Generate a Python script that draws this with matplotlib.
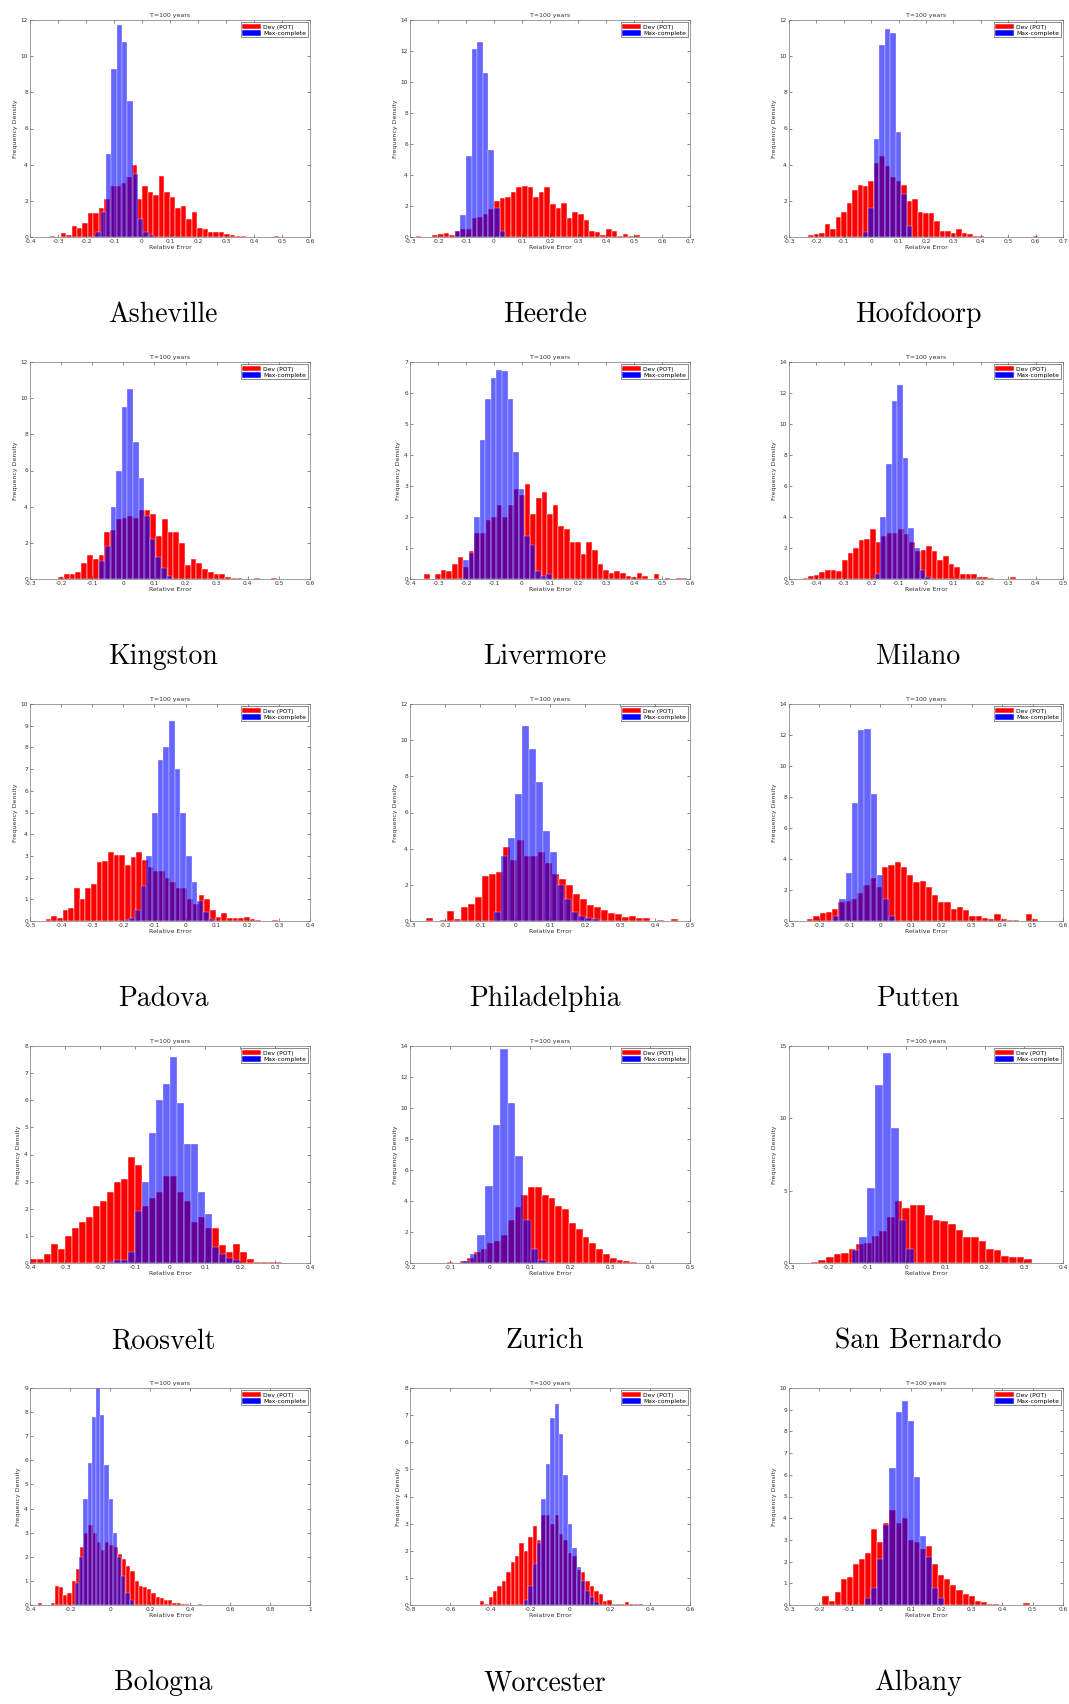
import numpy as np
import matplotlib
matplotlib.use("Agg")
import matplotlib.pyplot as plt
from matplotlib.ticker import FuncFormatter

plt.rcParams['axes.unicode_minus'] = False
plt.rcParams['font.family'] = 'DejaVu Sans'

cities = ["Asheville", "Heerde", "Hoofdoorp",
          "Kingston", "Livermore", "Milano",
          "Padova", "Philadelphia", "Putten",
          "Roosvelt", "Zurich", "San Bernardo",
          "Bologna", "Worcester", "Albany"]

x_limits = [(-0.4, 0.6), (-0.3, 0.7), (-0.3, 0.7),
            (-0.3, 0.6), (-0.4, 0.6), (-0.5, 0.5),
            (-0.5, 0.4), (-0.3, 0.5), (-0.3, 0.6),
            (-0.4, 0.4), (-0.2, 0.5), (-0.3, 0.4),
            (-0.4, 1.0), (-0.8, 0.6), (-0.3, 0.6)]
x_steps = [0.1] * 12 + [0.2, 0.2, 0.1]
y_max = [12, 14, 12, 12, 7, 14, 10, 12, 14, 8, 14, 15, 9, 8, 10]
y_steps = [2, 2, 2, 2, 1, 2, 1, 2, 2, 1, 2, 5, 1, 1, 1]

# Dev (POT): first bin centre, bin width, densities
asheville_red = (-0.32, 0.0195, [0.05, 0.0, 0.2, 0.1, 0.6, 0.5, 0.8, 1.3, 1.3, 1.6, 2.1, 2.8, 2.8, 3.0, 3.3, 4.0,
                                 2.1, 2.8, 2.5, 2.3, 3.4, 2.5, 2.2, 1.6, 1.7, 1.0, 1.4, 0.5, 0.45, 0.3, 0.3, 0.3,
                                 0.15, 0.1, 0.05, 0.03, 0.02, 0.02, 0.02, 0.02, 0.02, 0.03])
heerde_red = (-0.27, 0.02, [0.05, 0.0, 0.0, 0.1, 0.2, 0.25, 0.1, 0.4, 0.5, 0.5, 1.2, 1.3, 1.5, 1.8, 2.3, 2.5,
                            2.6, 2.9, 3.2, 3.3, 3.2, 2.6, 2.9, 3.2, 2.1, 1.9, 2.2, 1.2, 1.6, 1.5, 1.1, 0.4,
                            0.3, 0.1, 0.5, 0.4, 0.05, 0.2, 0.05, 0.1, 0.02, 0.02, 0.02, 0.02, 0.02, 0.02, 0.02])
hoofdoorp_red = (-0.22, 0.02, [0.1, 0.15, 0.2, 0.7, 0.45, 1.1, 1.4, 1.9, 2.6, 2.9, 2.8, 3.1, 4.1, 4.5, 3.9, 3.3,
                               3.1, 2.9, 2.0, 2.1, 1.4, 1.3, 1.3, 0.9, 0.35, 0.35, 0.2, 0.45, 0.2, 0.15, 0.05,
                               0.03, 0.02, 0.02, 0.02, 0.02, 0.02, 0.02, 0.02, 0.02, 0.02, 0.05])
kingston_red = (-0.2, 0.0185, [0.1, 0.3, 0.25, 0.4, 0.9, 1.3, 1.1, 1.3, 2.6, 2.7, 3.3, 3.4, 3.5, 3.4, 3.8, 3.8,
                               3.6, 2.4, 3.3, 2.6, 2.6, 2.0, 0.8, 1.1, 0.9, 0.55, 0.4, 0.25, 0.25, 0.1, 0.05,
                               0.03, 0.02, 0.02, 0.03, 0.02, 0.02, 0.03, 0.02])
livermore_red = (-0.34, 0.02, [0.15, 0.0, 0.15, 0.3, 0.25, 0.5, 0.7, 0.4, 0.9, 1.5, 1.5, 1.9, 2.0, 2.4, 2.0, 2.4,
                               2.9, 2.7, 3.05, 2.1, 2.6, 2.8, 2.1, 2.4, 1.7, 1.6, 1.2, 1.2, 0.8, 1.2, 0.95, 0.5,
                               0.3, 0.2, 0.25, 0.2, 0.1, 0.07, 0.2, 0.1, 0.0, 0.15, 0.0, 0.03, 0.0, 0.03, 0.03])
milano_red = (-0.44, 0.0205, [0.05, 0.2, 0.25, 0.45, 0.6, 0.55, 0.5, 1.2, 1.7, 2.0, 2.5, 2.6, 3.2, 2.4, 2.8, 3.0,
                              3.0, 3.2, 2.9, 2.4, 1.8, 1.9, 2.1, 1.8, 1.2, 1.5, 1.0, 0.8, 0.35, 0.35, 0.3, 0.15,
                              0.1, 0.05, 0.03, 0.02, 0.03, 0.1, 0.02, 0.02, 0.02, 0.02])
padova_red = (-0.44, 0.0182, [0.1, 0.25, 0.15, 0.5, 0.6, 1.5, 1.0, 1.5, 1.7, 2.7, 2.75, 3.2, 3.05, 3.05, 2.6, 2.95,
                              3.2, 2.8, 2.5, 2.3, 2.3, 2.0, 1.8, 1.5, 1.5, 1.0, 0.8, 1.2, 1.0, 0.5, 0.2, 0.35,
                              0.15, 0.15, 0.15, 0.2, 0.1, 0.05, 0.0, 0.0, 0.05])
philadelphia_red = (-0.245, 0.02, [0.15, 0.0, 0.05, 0.55, 0.1, 0.8, 0.95, 1.3, 2.5, 2.6, 2.7, 4.1, 3.4, 4.5, 3.6,
                                   3.6, 3.8, 3.2, 2.6, 2.3, 2.0, 1.5, 1.2, 0.9, 0.8, 0.6, 0.45, 0.4, 0.2, 0.25,
                                   0.15, 0.15, 0.02, 0.05, 0.02, 0.1])
putten_red = (-0.23, 0.0205, [0.1, 0.3, 0.5, 0.6, 0.8, 1.2, 1.3, 1.4, 1.8, 2.3, 2.8, 2.2, 3.5, 3.6, 3.8, 3.5, 3.0,
                              2.5, 2.6, 2.2, 1.7, 1.2, 1.2, 0.8, 0.9, 0.7, 0.3, 0.3, 0.2, 0.15, 0.45, 0.15, 0.05,
                              0.05, 0.02, 0.45, 0.1])
roosvelt_red = (-0.39, 0.02, [0.15, 0.15, 0.35, 0.7, 0.5, 1.0, 1.3, 1.5, 1.7, 2.1, 2.3, 2.6, 3.0, 3.1, 3.9, 3.6,
                              2.1, 2.4, 2.6, 3.2, 3.2, 2.6, 2.3, 1.5, 1.7, 1.3, 1.3, 0.65, 0.4, 0.7, 0.4, 0.15,
                              0.05, 0.05, 0.05, 0.05])
zurich_red = (-0.1, 0.017, [0.05, 0.02, 0.1, 0.3, 0.7, 0.9, 1.3, 1.4, 1.8, 2.8, 3.6, 4.4, 4.9, 4.9, 4.4, 4.2, 3.7,
                            3.5, 2.6, 2.2, 1.7, 1.3, 0.9, 0.6, 0.3, 0.2, 0.15, 0.05, 0.02, 0.02])
sanbernardo_red = (-0.235, 0.0195, [0.1, 0.2, 0.4, 0.6, 0.7, 1.0, 1.3, 1.4, 1.9, 2.2, 3.2, 4.3, 3.8, 4.0, 4.0, 3.3,
                                    3.0, 2.9, 2.7, 2.3, 1.8, 1.8, 1.5, 1.0, 0.9, 0.5, 0.4, 0.4, 0.3])
bologna_red = (-0.35, 0.021, [0.1, 0.0, 0.0, 0.1, 0.8, 0.75, 0.4, 0.5, 1.0, 1.5, 2.4, 3.0, 3.3, 3.0, 2.6, 2.3,
                              2.6, 2.5, 2.4, 2.1, 1.9, 1.6, 1.4, 1.0, 0.8, 0.75, 0.65, 0.5, 0.35, 0.3, 0.2, 0.2,
                              0.1, 0.1, 0.05, 0.05, 0.02, 0.02, 0.05])
worcester_red = (-0.44, 0.022, [0.15, 0.05, 0.3, 0.5, 0.7, 0.9, 1.2, 1.6, 1.8, 2.3, 2.0, 2.5, 2.9, 2.4, 3.3, 3.3,
                                3.0, 3.3, 2.6, 2.4, 1.9, 1.8, 1.3, 1.2, 0.9, 0.7, 0.5, 0.4, 0.15, 0.2, 0.05,
                                0.05, 0.02, 0.1, 0.02, 0.02, 0.05])
albany_red = (-0.18, 0.02, [0.4, 0.2, 0.6, 1.2, 1.3, 1.9, 2.1, 2.4, 3.5, 2.9, 3.8, 4.4, 3.8, 4.0, 3.0, 2.9, 2.6,
                            2.7, 1.9, 1.4, 1.2, 0.9, 0.7, 0.5, 0.4, 0.2, 0.15, 0.05, 0.05, 0.02, 0.02, 0.02,
                            0.02, 0.1])

# Max-complete: first bin centre, bin width, densities
asheville_blue = (-0.157, 0.019, [0.3, 1.4, 4.6, 9.3, 11.7, 10.8, 7.5, 3.5, 1.0, 0.3, 0.1])
heerde_blue = (-0.13, 0.02, [0.4, 1.4, 5.2, 12.1, 12.6, 10.6, 5.6, 1.9, 0.4])
hoofdoorp_blue = (-0.02, 0.02, [0.3, 1.6, 5.4, 10.6, 11.5, 11.3, 5.8, 2.4, 0.6])
kingston_blue = (-0.068, 0.018, [1.0, 1.8, 4.0, 6.0, 9.5, 10.5, 7.6, 5.6, 3.5, 2.2, 1.2, 0.6, 0.15])
livermore_blue = (-0.2, 0.0198, [0.6, 0.85, 2.0, 4.5, 5.8, 6.5, 6.75, 6.7, 5.8, 4.1, 2.9, 1.4, 1.1, 0.25, 0.1,
                                 0.15])
milano_blue = (-0.177, 0.0205, [0.3, 4.0, 7.4, 11.5, 12.5, 7.8, 3.3, 2.0, 0.6, 0.1])
padova_blue = (-0.19, 0.0182, [0.05, 0.15, 0.5, 1.6, 3.0, 5.0, 7.4, 8.0, 9.2, 7.0, 5.0, 3.0, 1.8, 0.9, 0.4, 0.1])
philadelphia_blue = (-0.05, 0.02, [0.5, 3.6, 4.6, 7.0, 10.8, 9.5, 7.7, 5.0, 3.8, 2.0, 1.2, 0.5, 0.3, 0.15, 0.1])
putten_blue = (-0.145, 0.0205, [0.3, 1.4, 3.1, 7.6, 12.3, 12.4, 8.2, 3.0, 1.4, 0.3])
roosvelt_blue = (-0.17, 0.02, [0.05, 0.1, 0.1, 0.4, 1.9, 3.0, 4.8, 6.0, 6.6, 7.6, 5.9, 4.4, 4.4, 2.6, 1.8, 0.6,
                               0.35, 0.2, 0.1])
zurich_blue = (-0.06, 0.019, [0.1, 0.6, 1.8, 5.0, 8.9, 13.8, 10.3, 6.9, 2.8, 0.9, 0.2])
sanbernardo_blue = (-0.13, 0.02, [0.9, 1.8, 5.2, 12.3, 14.5, 9.3, 3.0, 1.0])
bologna_blue = (-0.165, 0.021, [0.9, 2.0, 4.4, 5.9, 7.8, 9.0, 7.9, 5.8, 4.4, 3.0, 2.0, 1.2, 0.5, 0.2])
worcester_blue = (-0.22, 0.022, [0.2, 0.7, 1.5, 2.3, 3.9, 5.2, 6.9, 7.4, 6.3, 4.8, 3.0, 2.1, 1.4, 0.9, 0.5, 0.3,
                                 0.1])
albany_blue = (-0.04, 0.02, [0.3, 0.8, 2.1, 3.7, 6.3, 8.9, 9.4, 8.5, 5.9, 3.2, 2.2, 0.8, 0.3])

red_sets = [asheville_red, heerde_red, hoofdoorp_red, kingston_red, livermore_red, milano_red,
            padova_red, philadelphia_red, putten_red, roosvelt_red, zurich_red, sanbernardo_red,
            bologna_red, worcester_red, albany_red]
blue_sets = [asheville_blue, heerde_blue, hoofdoorp_blue, kingston_blue, livermore_blue, milano_blue,
             padova_blue, philadelphia_blue, putten_blue, roosvelt_blue, zurich_blue, sanbernardo_blue,
             bologna_blue, worcester_blue, albany_blue]

W, H = 1069, 1704
fig = plt.figure(figsize=(W / 100, H / 100), dpi=100)

col_left = [30, 410, 789]
col_width = [280, 280, 274]
label_x = [163, 545, 918]
row_top = 20
row_step = 342
ax_h = 217


def tick_fmt(v, pos):
    v = round(v, 3)
    if abs(v) < 1e-9:
        return "0"
    return ("%g" % v)


def draw_hist(ax, spec, **kw):
    start, width, dens = spec
    centers = start + width * np.arange(len(dens))
    ax.bar(centers, dens, width=width, edgecolor='white', linewidth=0.35, **kw)


for i, city in enumerate(cities):
    r, c = divmod(i, 3)
    top = row_top + r * row_step
    ax = fig.add_axes([col_left[c] / W, 1 - (top + ax_h) / H, col_width[c] / W, ax_h / H])

    draw_hist(ax, red_sets[i], color='#ff0000', label='Dev (POT)')
    draw_hist(ax, blue_sets[i], color='#0000ff', alpha=0.6, label='Max-complete')

    x0, x1 = x_limits[i]
    ax.set_xlim(x0, x1)
    ax.set_ylim(0, y_max[i])
    ax.set_xticks(np.arange(x0, x1 + 1e-6, x_steps[i]))
    ax.set_yticks(np.arange(0, y_max[i] + 1e-6, y_steps[i]))
    ax.xaxis.set_major_formatter(FuncFormatter(tick_fmt))
    ax.yaxis.set_major_formatter(FuncFormatter(tick_fmt))
    ax.tick_params(direction='in', length=2, width=0.4, labelsize=4.2, pad=1.5,
                   top=True, right=True, colors='#333333')
    for s in ax.spines.values():
        s.set_linewidth(0.5)
        s.set_color('#777777')

    ax.set_title('T=100 years', fontsize=4.5, pad=2, color='#333333')
    ax.set_xlabel('Relative Error', fontsize=4.5, labelpad=1, color='#333333')
    ax.set_ylabel('Frequency Density', fontsize=4.5, labelpad=2, color='#333333')

    leg = ax.legend(loc='upper right', fontsize=4.3, handlelength=3.2, handleheight=1.0,
                    borderpad=0.25, labelspacing=0.1, handletextpad=0.3, borderaxespad=0.4,
                    fancybox=False, framealpha=1)
    leg.get_frame().set_edgecolor('#333333')
    leg.get_frame().set_linewidth(0.4)
    for h in leg.legend_handles:
        h.set_alpha(1)

    fig.text(label_x[c] / W, 1 - (315 + r * row_step) / H, city, fontsize=20,
             family='cmr10', ha='center', va='center')

fig.savefig('out.png', dpi=100)
